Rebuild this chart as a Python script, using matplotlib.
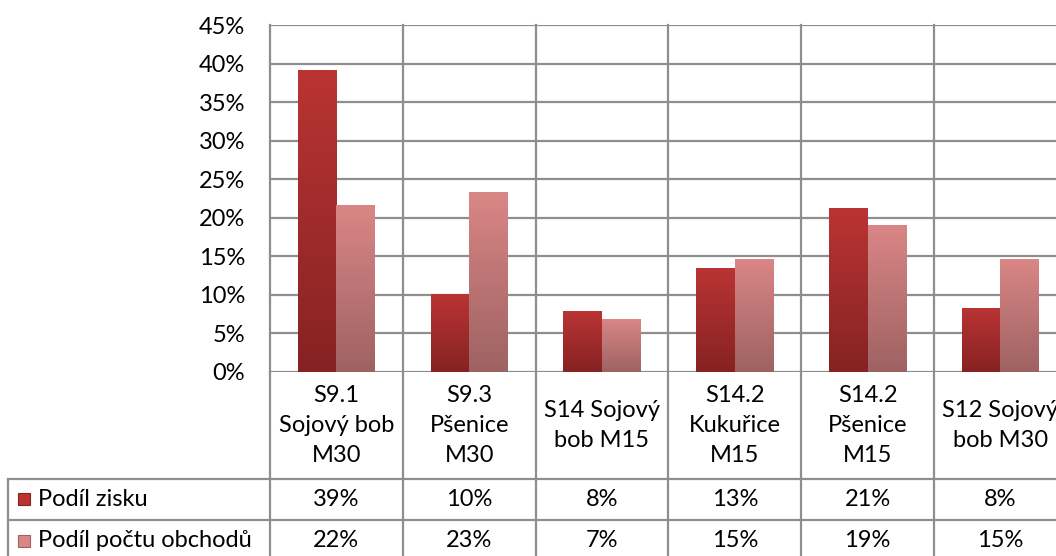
import numpy as np
import matplotlib.pyplot as plt
from matplotlib.transforms import blended_transform_factory
from matplotlib.colors import LinearSegmentedColormap

plt.rcParams['font.family'] = ['Lato', 'DejaVu Sans']

# --- data ---
categories = ["S9.1\nSojový bob\nM30", "S9.3\nPšenice\nM30", "S14 Sojový\nbob M15",
              "S14.2\nKukuřice\nM15", "S14.2\nPšenice\nM15", "S12 Sojový\nbob M30"]
series_names = ["Podíl zisku", "Podíl počtu obchodů"]
podil_zisku = [0.391, 0.100, 0.078, 0.134, 0.212, 0.082]
podil_obchodu = [0.216, 0.233, 0.068, 0.146, 0.190, 0.146]
yticks = np.arange(0, 0.451, 0.05)

# gradient colours (bottom -> top)
grad_zisk = ["#862222", "#BA3434"]
grad_obch = ["#9E6262", "#DA8686"]

GRID = "#8e8e8e"
FS = 17

fig = plt.figure(figsize=(10.56, 5.56), dpi=100)
ax = fig.add_axes([270 / 1056, 184 / 556, 796.8 / 1056, 347 / 556])

x = np.arange(len(categories))
w = 0.29
bars1 = ax.bar(x - w / 2, podil_zisku, w, color="none", zorder=3)
bars2 = ax.bar(x + w / 2, podil_obchodu, w, color="none", zorder=3)

# fill bars with vertical gradient
def fill_gradient(bars, cols):
    cmap = LinearSegmentedColormap.from_list("g", cols)
    grad = np.linspace(0, 1, 256).reshape(-1, 1)
    for b in bars:
        x0, y0 = b.get_x(), b.get_y()
        ax.imshow(grad, cmap=cmap, origin="lower", aspect="auto",
                  extent=(x0, x0 + b.get_width(), y0, y0 + b.get_height()),
                  zorder=3)

fill_gradient(bars1, grad_zisk)
fill_gradient(bars2, grad_obch)

ax.set_xlim(-0.5, len(categories) - 0.5)
ax.set_ylim(0, 0.45)
ax.set_yticks(yticks)
ax.set_yticklabels([f"{v:.0%}" for v in yticks], fontsize=FS)
ax.tick_params(axis="y", length=0, pad=18)
ax.set_xticks([])
ax.yaxis.grid(True, color=GRID, lw=1.6, zorder=0)
ax.set_axisbelow(True)
for s in ["top", "right", "bottom"]:
    ax.spines[s].set_visible(False)
ax.spines["left"].set_color(GRID)
ax.spines["left"].set_linewidth(1.6)

# --- data table under the plot ---
tr = blended_transform_factory(ax.transData, ax.transAxes)
hdr_bot, row1_bot, row2_bot = -0.308, -0.4265, -0.545
left_edge = -2.473
right_edge = len(categories) - 0.5

# vertical separators between categories (through plot and table)
for b in np.arange(0.5, len(categories) - 0.5, 1.0):
    ax.plot([b, b], [1, row2_bot], color=GRID, lw=1.6, transform=tr,
            clip_on=False, zorder=1)
ax.plot([-0.5, -0.5], [0, row2_bot], color=GRID, lw=1.6, transform=tr,
        clip_on=False)
ax.plot([left_edge, left_edge], [hdr_bot, row2_bot], color=GRID, lw=1.6,
        transform=tr, clip_on=False)
for yy in [hdr_bot, row1_bot]:
    ax.plot([left_edge, right_edge], [yy, yy], color=GRID, lw=1.6,
            transform=tr, clip_on=False)

for i, c in enumerate(categories):
    ax.text(i, hdr_bot / 2, c, transform=tr, ha="center", va="center",
            multialignment="center", fontsize=FS, linespacing=1.55)

rows = [(podil_zisku, row1_bot, hdr_bot, grad_zisk),
        (podil_obchodu, row2_bot, row1_bot, grad_obch)]
for name, (vals, lo, hi, cols) in zip(series_names, rows):
    yc = (lo + hi) / 2
    for i, v in enumerate(vals):
        ax.text(i, yc, f"{v:.0%}", transform=tr, ha="center", va="center",
                fontsize=FS)
    ax.plot([-2.352], [yc], marker="s", ms=9, color=cols[1], mec=cols[0],
            mew=0.8, transform=tr, clip_on=False)
    ax.text(-2.247, yc, name, transform=tr, ha="left", va="center",
            fontsize=FS)

fig.savefig("out.png", dpi=100)
